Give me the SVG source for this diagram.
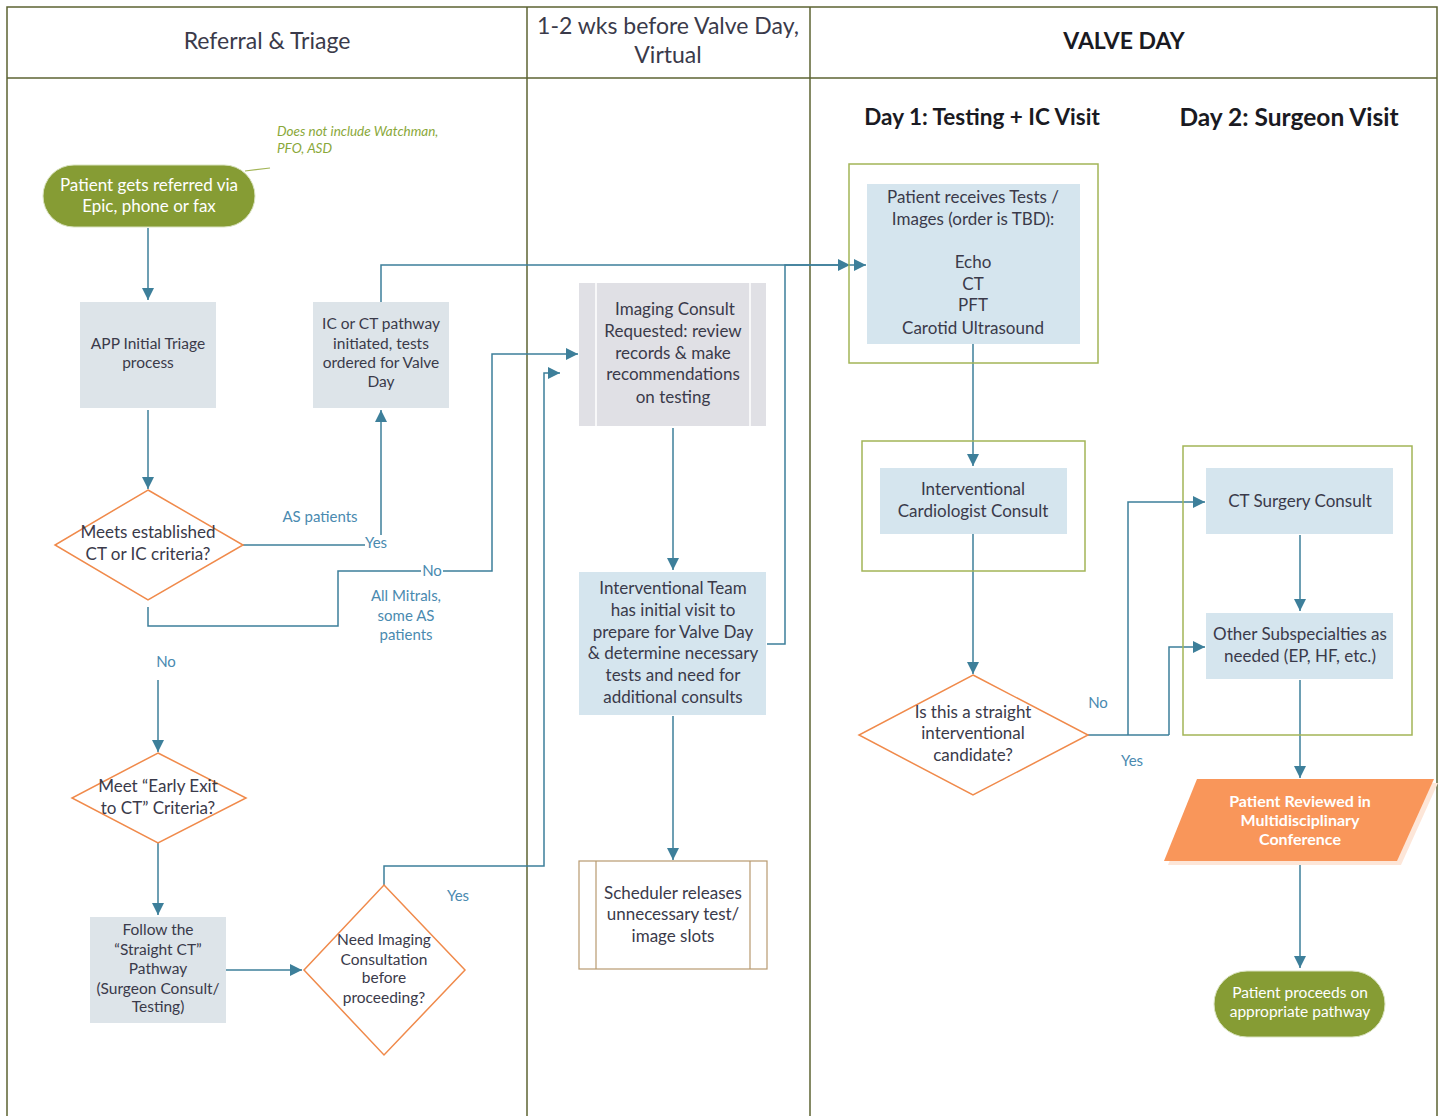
<svg xmlns="http://www.w3.org/2000/svg" width="1442" height="1116" viewBox="0 0 1442 1116">
<defs>
<marker id="arr" markerUnits="userSpaceOnUse" markerWidth="12" markerHeight="12" refX="12" refY="6" orient="auto">
<path d="M0,0 L12,6 L0,12 z" fill="#3d7f9a"/>
</marker>
<style>
.lane{stroke:#5c6332;stroke-width:1.5;fill:none}
.t{font-family:Lato,"Open Sans","Liberation Sans",sans-serif;fill:#3a3a4a;text-anchor:middle}
.hdr{font-size:23px}
.b{font-weight:bold;fill:#1a1a22}
.n14{font-size:15.5px}
.n16{font-size:17px}
.w{fill:#ffffff}
.lbl{font-family:Lato,"Open Sans","Liberation Sans",sans-serif;fill:#4a8ab0;font-size:15px;text-anchor:middle}
.c{stroke:#3d7f9a;stroke-width:1.5;fill:none}
.ca{stroke:#3d7f9a;stroke-width:1.5;fill:none;marker-end:url(#arr)}
.box{fill:#dde4e9}
.blue{fill:#d5e5ee}
.grp{fill:none;stroke:#a3b557;stroke-width:1.5}
.dia{fill:#ffffff;stroke:#f08a4b;stroke-width:1.5}
.term{fill:#869c34;stroke:#d9e2bf;stroke-width:1}
.note{font-family:Lato,"Open Sans","Liberation Sans",sans-serif;font-style:italic;font-size:13.5px;fill:#8aa83a}
</style>
</defs>
<rect width="1442" height="1116" fill="#ffffff"/>
<g id="lanes">
<path class="lane" d="M7,1116 V7 H1437 V1116"/>
<path class="lane" d="M7,78 H1437"/>
<path class="lane" d="M527,7 V1116"/>
<path class="lane" d="M810,7 V1116"/>
<text class="t hdr" x="267" y="49">Referral &amp; Triage</text>
<text class="t hdr" x="668" y="34">1-2 wks before Valve Day,</text>
<text class="t hdr" x="668" y="63">Virtual</text>
<text class="t hdr b" x="1124" y="49">VALVE DAY</text>
<text class="t b" x="982" y="125" font-size="22.5">Day 1: Testing + IC Visit</text>
<text class="t b" x="1289" y="126" font-size="24.5">Day 2: Surgeon Visit</text>
</g>
<g id="connectors">
<path d="M245,171 L270,168" stroke="#a3b557" stroke-width="1.2" fill="none"/>
<path class="ca" d="M148,228 V300"/>
<path class="ca" d="M148,410 V489"/>
<path class="c" d="M243,545 H365"/>
<path class="ca" d="M381,535 V410"/>
<path class="ca" d="M381,302 V265 H850"/>
<path class="ca" d="M767,644 H785 V265 H866"/>
<path class="c" d="M148,607 V626 H338 V571 H421"/>
<path class="ca" d="M443,571 H492 V354 H578"/>
<path class="ca" d="M158,680 V752"/>
<path class="ca" d="M158,843 V915"/>
<path class="ca" d="M226,970 H302"/>
<path class="ca" d="M384,885 V866 H544 V373 H560"/>
<path class="ca" d="M673,428 V570"/>
<path class="ca" d="M673,716 V860"/>
<path class="ca" d="M973,344 V466"/>
<path class="ca" d="M973,534 V674"/>
<path class="c" d="M1088,735 H1169"/>
<path class="ca" d="M1128,735 V502 H1205"/>
<path class="ca" d="M1169,735 V647 H1205"/>
<path class="ca" d="M1300,535 V611"/>
<path class="ca" d="M1300,680 V778"/>
<path class="ca" d="M1300,862 V968"/>
<text class="lbl" x="320" y="522">AS patients</text>
<text class="lbl" x="376" y="548">Yes</text>
<text class="lbl" x="432" y="576">No</text>
<text class="lbl" x="406" y="601">All Mitrals,</text>
<text class="lbl" x="406" y="621">some AS</text>
<text class="lbl" x="406" y="640">patients</text>
<text class="lbl" x="166" y="667">No</text>
<text class="lbl" x="458" y="901">Yes</text>
<text class="lbl" x="1098" y="708">No</text>
<text class="lbl" x="1132" y="766">Yes</text>
</g>
<g id="note">
<text class="note" x="277" y="136">Does not include Watchman,</text>
<text class="note" x="277" y="153">PFO, ASD</text>
</g>
<g id="start">
<rect class="term" x="43" y="165" width="212" height="62" rx="31"/>
<text class="t n16 w" x="149" y="191">Patient gets referred via</text>
<text class="t n16 w" x="149" y="212">Epic, phone or fax</text>
</g>
<g id="app-triage">
<rect class="box" x="80" y="302" width="136" height="106"/>
<text class="t n14" x="148" y="349">APP Initial Triage</text>
<text class="t n14" x="148" y="368">process</text>
</g>
<g id="ic-ct-pathway">
<rect class="box" x="313" y="302" width="136" height="106"/>
<text class="t n14" x="381" y="329">IC or CT pathway</text>
<text class="t n14" x="381" y="349">initiated, tests</text>
<text class="t n14" x="381" y="368">ordered for Valve</text>
<text class="t n14" x="381" y="387">Day</text>
</g>
<g id="meets-criteria">
<polygon class="dia" points="148,490 243,545 148,600 55,545"/>
<text class="t n16" x="148" y="538">Meets established</text>
<text class="t n16" x="148" y="560">CT or IC criteria?</text>
</g>
<g id="early-exit">
<polygon class="dia" points="158,753 246,798 158,843 72,798"/>
<text class="t n16" x="158" y="792">Meet “Early Exit</text>
<text class="t n16" x="158" y="814">to CT” Criteria?</text>
</g>
<g id="straight-ct">
<rect class="box" x="90" y="917" width="136" height="106"/>
<text class="t n14" x="158" y="935">Follow the</text>
<text class="t n14" x="158" y="955">“Straight CT”</text>
<text class="t n14" x="158" y="974">Pathway</text>
<text class="t n14" x="158" y="994">(Surgeon Consult/</text>
<text class="t n14" x="158" y="1012">Testing)</text>
</g>
<g id="need-imaging">
<polygon class="dia" points="384,885 465,970 384,1055 304,970"/>
<text class="t n14" x="384" y="945">Need Imaging</text>
<text class="t n14" x="384" y="965">Consultation</text>
<text class="t n14" x="384" y="983">before</text>
<text class="t n14" x="384" y="1003">proceeding?</text>
</g>
<g id="imaging-consult">
<rect x="579" y="283" width="187" height="143" fill="#e0e0e5"/>
<path d="M596,283 V426 M750,283 V426" stroke="#ffffff" stroke-width="1.5"/>
<text class="t n16" x="675" y="315">Imaging Consult</text>
<text class="t n16" x="673" y="337">Requested: review</text>
<text class="t n16" x="673" y="359">records &amp; make</text>
<text class="t n16" x="673" y="380">recommendations</text>
<text class="t n16" x="673" y="403">on testing</text>
</g>
<g id="interventional-team">
<rect class="blue" x="579" y="572" width="187" height="143"/>
<text class="t n16" x="673" y="594">Interventional Team</text>
<text class="t n16" x="673" y="616">has initial visit to</text>
<text class="t n16" x="673" y="638">prepare for Valve Day</text>
<text class="t n16" x="673" y="659">&amp; determine necessary</text>
<text class="t n16" x="673" y="681">tests and need for</text>
<text class="t n16" x="673" y="703">additional consults</text>
</g>
<g id="scheduler">
<rect x="579" y="861" width="188" height="108" fill="#ffffff" stroke="#b89a70" stroke-width="1.2"/>
<path d="M596,861 V969 M750,861 V969" stroke="#b89a70" stroke-width="1.2"/>
<text class="t n16" x="673" y="899">Scheduler releases</text>
<text class="t n16" x="673" y="920">unnecessary test/</text>
<text class="t n16" x="673" y="942">image slots</text>
</g>
<g id="tests">
<rect class="grp" x="849" y="164" width="249" height="199"/>
<rect class="blue" x="867" y="184" width="213" height="160"/>
<text class="t n16" x="973" y="203">Patient receives Tests /</text>
<text class="t n16" x="973" y="225">Images (order is TBD):</text>
<text class="t n16" x="973" y="268">Echo</text>
<text class="t n16" x="973" y="290">CT</text>
<text class="t n16" x="973" y="311">PFT</text>
<text class="t n16" x="973" y="334">Carotid Ultrasound</text>
</g>
<g id="ic-consult">
<rect class="grp" x="862" y="441" width="223" height="130"/>
<rect class="blue" x="880" y="468" width="187" height="66"/>
<text class="t n16" x="973" y="495">Interventional</text>
<text class="t n16" x="973" y="517">Cardiologist Consult</text>
</g>
<g id="straight-candidate">
<polygon class="dia" points="973,675 1088,735 973,795 859,735"/>
<text class="t n16" x="973" y="718">Is this a straight</text>
<text class="t n16" x="973" y="739">interventional</text>
<text class="t n16" x="973" y="761">candidate?</text>
</g>
<g id="day2-group">
<rect class="grp" x="1183" y="446" width="229" height="289"/>
</g>
<g id="ct-surgery">
<rect class="blue" x="1206" y="468" width="187" height="66"/>
<text class="t n16" x="1300" y="507">CT Surgery Consult</text>
</g>
<g id="other-subspecialties">
<rect class="blue" x="1206" y="613" width="187" height="66"/>
<text class="t n16" x="1300" y="640">Other Subspecialties as</text>
<text class="t n16" x="1300" y="662">needed (EP, HF, etc.)</text>
</g>
<g id="conference">
<polygon points="1201,783 1438,783 1401,865 1168,865" fill="#fde6d8"/>
<polygon points="1197,779 1434,779 1397,861 1164,861" fill="#f9965a"/>
<text class="t w" font-size="16" font-weight="bold" x="1300" y="807">Patient Reviewed in</text>
<text class="t w" font-size="16" font-weight="bold" x="1300" y="826">Multidisciplinary</text>
<text class="t w" font-size="16" font-weight="bold" x="1300" y="845">Conference</text>
</g>
<g id="end">
<rect class="term" x="1214" y="971" width="171" height="66" rx="33"/>
<text class="t n14 w" x="1300" y="998">Patient proceeds on</text>
<text class="t n14 w" x="1300" y="1017">appropriate pathway</text>
</g>
</svg>
